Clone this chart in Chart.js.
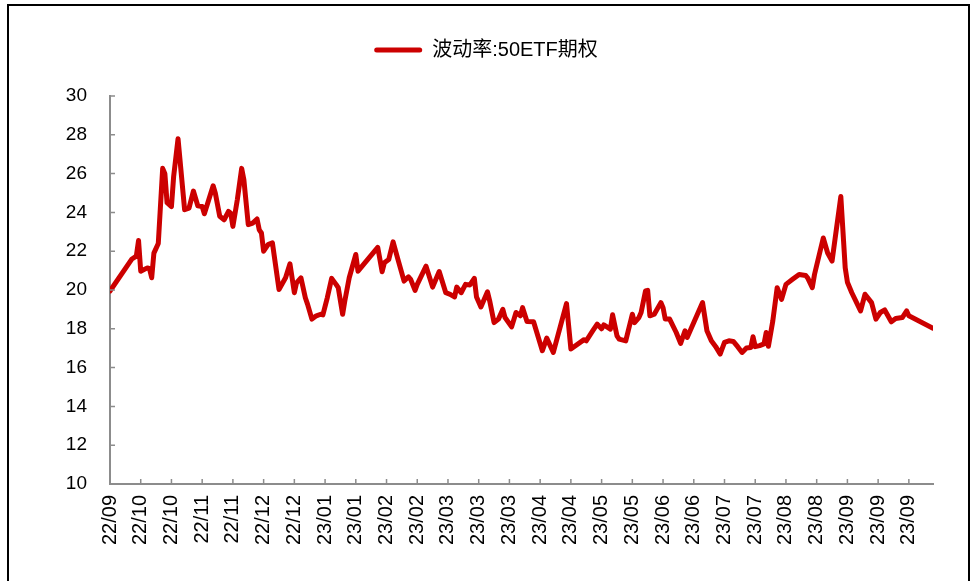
<!DOCTYPE html>
<html>
<head>
<meta charset="utf-8">
<script src="https://cdn.jsdelivr.net/npm/chart.js@4.4.1/dist/chart.umd.min.js"></script>
<style>
  html, body { margin: 0; padding: 0; background: #fff; }
</style>
</head>
<body>
<canvas id="volChart" width="972" height="581"></canvas>
<script>
// calendar days counted from 2022-09-30
const days = [
  0, 10, 12, 13, 14, 17, 18, 19, 20, 22, 24, 25, 26, 28, 29, 31, 34, 36, 38, 40,
  42, 43, 47, 48, 50, 52, 54, 55, 56, 58, 60, 61, 63, 65, 67, 68, 69, 70, 72, 74,
  77, 80, 82, 84, 85, 87, 89, 90, 92, 94, 96, 97, 99, 101, 103, 104, 106, 107, 109, 112,
  113, 122, 124, 125, 127, 129, 131, 134, 136, 137, 139, 140, 144, 147, 150, 153, 155, 157, 158, 160,
  162, 164, 166, 167, 169, 172, 173, 175, 177, 179, 180, 183, 185, 187, 188, 190, 193, 197, 199, 202,
  208, 210, 216, 217, 220, 222, 224, 225, 228, 229, 231, 232, 235, 238, 239, 241, 242, 244, 245, 246,
  248, 251, 252, 253, 255, 258, 260, 262, 263, 270, 272, 274, 276, 278, 280, 282, 284, 286, 288, 290,
  292, 293, 294, 296, 298, 299, 300, 302, 304, 306, 308, 311, 314, 317, 318, 320, 321, 325, 327, 329,
  333, 335, 336, 338, 342, 344, 347, 349, 351, 353, 356, 358, 361, 363, 364, 375
];

// 波动率:50ETF期权
const vol = [
  19.95, 21.6, 21.75, 22.55, 20.97, 21.14, 21.1, 20.63, 21.9, 22.4, 26.27, 26.0, 24.5, 24.3, 25.85, 27.8, 24.14, 24.22, 25.1, 24.34,
  24.3, 23.93, 25.37, 24.99, 23.8, 23.62, 24.05, 23.96, 23.28, 24.65, 26.27, 25.68, 23.37, 23.45, 23.66, 23.1, 22.94, 22.0, 22.34, 22.43,
  20.03, 20.63, 21.35, 19.86, 20.37, 20.63, 19.6, 19.27, 18.5, 18.67, 18.75, 18.72, 19.6, 20.6, 20.29, 20.12, 18.75, 19.44, 20.63, 21.83,
  20.97, 22.2, 20.94, 21.4, 21.57, 22.48, 21.66, 20.46, 20.68, 20.55, 19.98, 20.29, 21.23, 20.15, 20.95, 19.86, 19.78, 19.64, 20.15, 19.86,
  20.29, 20.26, 20.6, 19.64, 19.13, 19.91, 19.44, 18.32, 18.5, 19.0, 18.58, 18.1, 18.84, 18.67, 19.09, 18.37, 18.36, 16.87, 17.52, 16.78,
  19.3, 16.96, 17.44, 17.38, 17.9, 18.24, 18.0, 18.2, 17.98, 18.72, 17.64, 17.47, 17.38, 18.75, 18.32, 18.58, 18.84, 19.95, 19.98, 18.67,
  18.75, 19.35, 19.09, 18.5, 18.5, 17.81, 17.25, 17.9, 17.55, 19.35, 17.9, 17.38, 17.08, 16.7, 17.3, 17.38, 17.35, 17.08, 16.78, 17.01,
  17.04, 17.59, 17.08, 17.13, 17.22, 17.81, 17.1, 18.4, 20.12, 19.52, 20.29, 20.55, 20.8, 20.75, 20.6, 20.12, 20.8, 22.68, 21.91, 21.49,
  24.82, 21.14, 20.4, 19.86, 18.92, 19.78, 19.35, 18.5, 18.84, 18.97, 18.36, 18.53, 18.58, 18.92, 18.67, 18.03
];

// one label every 14 days
const tickLabels = [
  '22/09', '22/10', '22/10', '22/11', '22/11', '22/12', '22/12', '23/01', '23/01', '23/02',
  '23/02', '23/03', '23/03', '23/03', '23/04', '23/04', '23/05', '23/05', '23/06', '23/06',
  '23/07', '23/07', '23/08', '23/08', '23/09', '23/09', '23/09'
];
const tickStep = 14;

const fontFamily = '"Liberation Sans", Arial, sans-serif';
const axisColor = '#8c8c8c';

// extra room between the legend and the plot
const legendMargin = {
  id: 'legendMargin',
  beforeInit(chart) {
    const fit = chart.legend.fit;
    chart.legend.fit = function () {
      fit.bind(chart.legend)();
      this.height += 26;
    };
  }
};

// tick marks pointing into the plot, plus the outer frame
const innerTicks = {
  id: 'innerTicks',
  afterDraw(chart) {
    const { ctx, chartArea: a, scales: { x, y } } = chart;
    ctx.save();
    ctx.strokeStyle = axisColor;
    ctx.lineWidth = 1.5;
    ctx.beginPath();
    y.ticks.forEach(t => {
      const py = y.getPixelForValue(t.value);
      ctx.moveTo(a.left, py);
      ctx.lineTo(a.left + 5, py);
    });
    x.ticks.forEach(t => {
      const px = x.getPixelForValue(t.value);
      ctx.moveTo(px, a.bottom);
      ctx.lineTo(px, a.bottom - 5);
    });
    ctx.stroke();

    ctx.strokeStyle = '#000';
    ctx.lineWidth = 2;
    ctx.strokeRect(8, 5, 961, 700);
    ctx.restore();
  }
};

new Chart(document.getElementById('volChart'), {
  type: 'line',
  data: {
    datasets: [{
      label: '波动率:50ETF期权',
      data: days.map((d, i) => ({ x: d, y: vol[i] })),
      borderColor: '#cc0000',
      backgroundColor: '#cc0000',
      borderWidth: 5,
      borderJoinStyle: 'round',
      borderCapStyle: 'round',
      pointRadius: 0,
      tension: 0
    }]
  },
  options: {
    responsive: false,
    animation: false,
    layout: { padding: { top: 30, right: 39, bottom: 0, left: 39 } },
    plugins: {
      tooltip: { enabled: false },
      legend: {
        position: 'top',
        labels: {
          boxWidth: 48,
          boxHeight: 5,
          padding: 10,
          useBorderRadius: true,
          borderRadius: 2.5,
          color: '#000',
          font: { family: '"Liberation Sans", "Noto Sans CJK SC", sans-serif', size: 20 },
          generateLabels: chart => Chart.defaults.plugins.legend.labels.generateLabels(chart)
            .map(l => ({ ...l, lineWidth: 0 }))
        }
      }
    },
    scales: {
      x: {
        type: 'linear',
        min: 0,
        max: 375,
        grid: { display: false, drawTicks: false },
        border: { display: true, color: axisColor, width: 2 },
        afterBuildTicks: s => { s.ticks = tickLabels.map((_, i) => ({ value: i * tickStep })); },
        afterFit: s => { s.height = 97; },
        ticks: {
          autoSkip: false,
          minRotation: 90,
          maxRotation: 90,
          padding: 11,
          color: '#000',
          font: { family: fontFamily, size: 20 },
          callback: (v, i) => tickLabels[i]
        }
      },
      y: {
        min: 10,
        max: 30,
        grid: { display: false, drawTicks: false },
        border: { display: true, color: axisColor, width: 2 },
        afterFit: s => { s.width = 71; },
        ticks: {
          stepSize: 2,
          padding: 23,
          color: '#000',
          font: { family: fontFamily, size: 19 }
        }
      }
    }
  },
  plugins: [legendMargin, innerTicks]
});
</script>
</body>
</html>
